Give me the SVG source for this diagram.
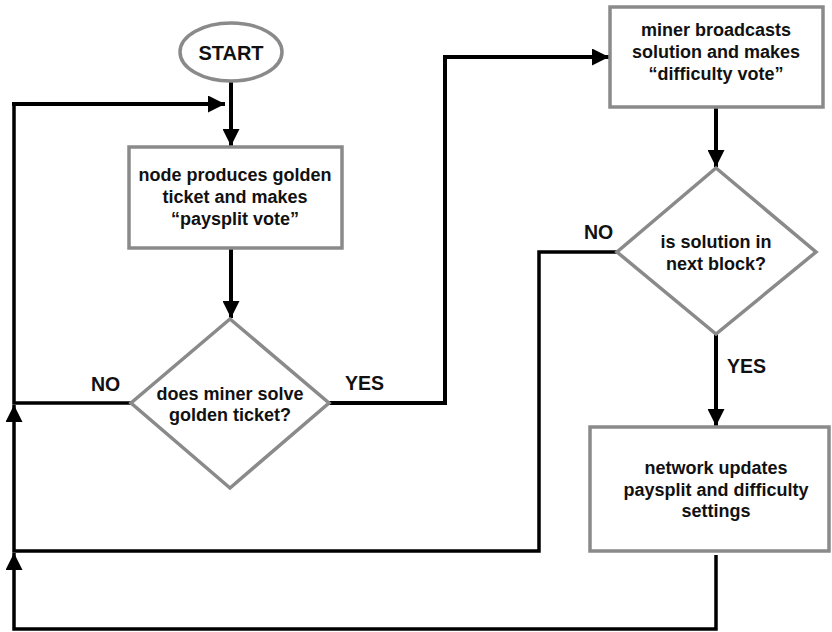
<svg xmlns="http://www.w3.org/2000/svg" width="832" height="632" viewBox="0 0 832 632">
<defs>
<marker id="ah" markerUnits="userSpaceOnUse" markerWidth="17" markerHeight="17" refX="17" refY="8.5" orient="auto" viewBox="0 0 17 17">
<path d="M0,0 L17,8.5 L0,17 z" fill="#000"/>
</marker>
</defs>
<style>
.shape{fill:#fff;stroke:#8a8a8a;stroke-width:3.5}
.t{font-family:"Liberation Sans",Arial,sans-serif;font-weight:bold;font-size:18px;fill:#111;text-anchor:middle}
.lbl{font-family:"Liberation Sans",Arial,sans-serif;font-weight:bold;font-size:19.5px;fill:#111}
.c{fill:none;stroke:#000;stroke-width:4}
.c3{fill:none;stroke:#000;stroke-width:3.5}
</style>
<rect width="832" height="632" fill="#fff"/>
<g id="connectors">
<path class="c" d="M231,82 V146" marker-end="url(#ah)"/>
<path class="c" d="M12,104 H225" marker-end="url(#ah)"/>
<path class="c" d="M231,248 V318" marker-end="url(#ah)"/>
<path class="c3" d="M131,403 H14 V102"/>
<path class="c" d="M329,403 H445 V57 H609" marker-end="url(#ah)"/>
<path class="c" d="M716,107 V167" marker-end="url(#ah)"/>
<path class="c" d="M716,334 V426" marker-end="url(#ah)"/>
<path class="c3" d="M617,252 H539 V551 H14 V405" marker-end="url(#ah)"/>
<path class="c3" d="M716,555 V629 H14 V553" marker-end="url(#ah)"/>
<text class="lbl" x="91" y="391">NO</text>
<text class="lbl" x="345" y="390">YES</text>
<text class="lbl" x="584" y="239">NO</text>
<text class="lbl" x="727" y="373">YES</text>
</g>
<g id="start">
<ellipse class="shape" cx="231" cy="52" rx="51" ry="29" stroke-width="4"/>
<text class="t" x="231" y="60" style="font-size:20px">START</text>
</g>
<g id="node-produces">
<rect class="shape" x="129" y="147" width="213" height="101"/>
<text class="t" x="235" y="181">node produces golden</text>
<text class="t" x="235" y="203">ticket and makes</text>
<text class="t" x="235" y="225">“paysplit vote”</text>
</g>
<g id="miner-solves">
<polygon class="shape" points="230,319 329,403 230,488 131,403"/>
<text class="t" x="230" y="400">does miner solve</text>
<text class="t" x="230" y="421">golden ticket?</text>
</g>
<g id="miner-broadcasts">
<rect class="shape" x="610" y="7" width="213" height="100"/>
<text class="t" x="716" y="36">miner broadcasts</text>
<text class="t" x="716" y="58">solution and makes</text>
<text class="t" x="716" y="80">“difficulty vote”</text>
</g>
<g id="in-next-block">
<polygon class="shape" points="716,168 816,252 716,334 617,252"/>
<text class="t" x="716" y="248">is solution in</text>
<text class="t" x="716" y="270">next block?</text>
</g>
<g id="network-updates">
<rect class="shape" x="590" y="427" width="239" height="124"/>
<text class="t" x="716" y="474">network updates</text>
<text class="t" x="716" y="496">paysplit and difficulty</text>
<text class="t" x="716" y="517">settings</text>
</g>
</svg>
